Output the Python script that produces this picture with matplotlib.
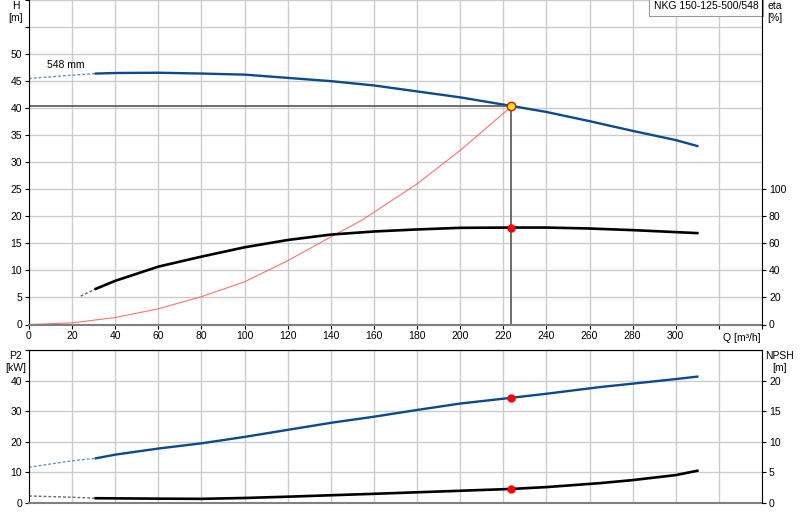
import matplotlib
matplotlib.use("Agg")
import matplotlib.pyplot as plt

plt.rcParams['font.family'] = ['Liberation Sans', 'DejaVu Sans']

# pump curve H(Q)
q_h_dash = [0, 20, 31]
h_dash = [45.5, 46.1, 46.4]
q_h = [31, 40, 60, 80, 100, 120, 140, 160, 180, 200, 224, 240, 260, 280, 300, 310]
h = [46.4, 46.5, 46.55, 46.4, 46.2, 45.6, 45.0, 44.2, 43.1, 42.0, 40.4, 39.3, 37.6, 35.8, 34.1, 33.0]

# system curve
q_sys = [0, 20, 40, 60, 80, 100, 120, 140, 154, 180, 200, 224]
h_sys = [0, 0.3, 1.3, 2.9, 5.15, 7.9, 11.8, 16.2, 19.2, 26.0, 32.2, 40.4]

# efficiency
q_eta_dash = [24, 31]
eta_dash = [21, 26.4]
q_eta = [31, 40, 60, 80, 100, 120, 140, 160, 180, 200, 224, 240, 260, 280, 310]
eta = [26.4, 32.3, 42.8, 50.2, 57.1, 62.5, 66.5, 68.8, 70.3, 71.5, 71.7, 71.7, 71.0, 69.8, 67.6]

# power P2
q_p2_dash = [0, 20, 31]
p2_dash = [11.7, 13.8, 14.6]
q_p2 = [31, 40, 60, 80, 100, 120, 140, 160, 180, 200, 224, 240, 265, 280, 300, 310]
p2 = [14.6, 15.8, 17.8, 19.5, 21.6, 23.9, 26.2, 28.2, 30.4, 32.5, 34.4, 35.7, 37.9, 39.0, 40.5, 41.3]

# NPSH
q_npsh_dash = [0, 20, 31]
npsh_dash = [1.15, 0.94, 0.78]
q_npsh = [31, 60, 80, 100, 120, 160, 200, 224, 240, 265, 280, 300, 310]
npsh = [0.78, 0.71, 0.68, 0.82, 1.03, 1.5, 2.0, 2.3, 2.6, 3.25, 3.74, 4.56, 5.27]

# duty point
q_op = 223.7
h_op = 40.4
eta_op = 71.7
p2_op = 34.4
npsh_op = 2.3

x_ticks = list(range(0, 341, 20))
x_labels = [str(v) if v <= 300 else '' for v in x_ticks]

blue = '#0b4a8b'
grid_c = '#cccccc'
fs = 7.5

fig = plt.figure(figsize=(8, 5.2), dpi=100)
ax = fig.add_axes([29 / 800, 1 - 324.5 / 520, 733 / 800, 324.5 / 520])
ax2 = fig.add_axes([29 / 800, 1 - 503 / 520, 733 / 800, 153 / 520])


def style_axes(a, ylim, yticks):
    a.set_xlim(0, 340)
    a.set_ylim(*ylim)
    a.set_xticks(x_ticks)
    a.set_yticks(yticks)
    a.grid(True, color=grid_c, linewidth=1)
    a.set_axisbelow(True)
    a.spines['top'].set_visible(False)
    a.spines['left'].set_color('black')
    a.spines['bottom'].set_color('#808080')
    a.spines['bottom'].set_linewidth(1.5)
    a.tick_params(labelsize=fs, length=3, pad=2)


# top chart
style_axes(ax, (0, 60), range(0, 61, 5))
ax.set_yticklabels([str(v) if v <= 50 else '' for v in range(0, 61, 5)])
ax.set_xticklabels(x_labels)
ax.spines['right'].set_visible(False)

ax.plot(q_h_dash, h_dash, color=blue, linewidth=1, linestyle=(0, (2, 1.5)), alpha=0.6)
ax.plot(q_h, h, color=blue, linewidth=1.7)
ax.plot(q_sys, h_sys, color='#ff5050', linewidth=0.8, alpha=0.8)
ax.plot([0, q_op], [h_op, h_op], color='#555555', linewidth=1.2)
ax.plot([q_op, q_op], [0, h_op], color='#555555', linewidth=1.2)

ax_eta = ax.twinx()
ax_eta.set_ylim(0, 240)
ax_eta.set_yticks(range(0, 101, 20))
ax_eta.tick_params(labelsize=fs, length=3, pad=2)
ax_eta.spines['top'].set_visible(False)
ax_eta.spines['left'].set_visible(False)
ax_eta.spines['bottom'].set_visible(False)
ax_eta.plot(q_eta_dash, eta_dash, color='black', linewidth=1, linestyle=(0, (2, 1.5)), alpha=0.6)
ax_eta.plot(q_eta, eta, color='black', linewidth=1.9)
ax_eta.plot(q_op, eta_op, 'o', color='red', markersize=5)
ax.plot(q_op, h_op, 'o', markerfacecolor='#ffee00', markeredgecolor='red', markersize=6, zorder=5)

ax.text(8.5, 47.9, '548 mm', fontsize=fs, va='center')
ax.text(322, -1.5, 'Q [m³/h]', fontsize=fs, ha='left', va='top')
ax.text(338.5, 59.8, 'NKG 150-125-500/548', fontsize=fs, ha='right', va='top',
        bbox=dict(boxstyle='square,pad=0.45', facecolor='white', edgecolor='#999999', linewidth=0.8))

# axis titles, placed in figure pixels like the reference
fig.text(16 / 800, 1 - 1 / 520, 'H\n[m]', fontsize=fs, ha='center', va='top', linespacing=1.3)
fig.text(767 / 800, 1 - 1 / 520, 'eta\n[%]', fontsize=fs, ha='left', va='top', linespacing=1.3)
fig.text(16 / 800, 1 - 351 / 520, 'P2\n[kW]', fontsize=fs, ha='center', va='top', linespacing=1.3)
fig.text(780 / 800, 1 - 351 / 520, 'NPSH\n[m]', fontsize=fs, ha='center', va='top', linespacing=1.3)

# bottom chart
style_axes(ax2, (0, 50), range(0, 51, 10))
ax2.set_yticklabels([str(v) if v <= 40 else '' for v in range(0, 51, 10)])
ax2.set_xticklabels([])
ax2.tick_params(axis='x', length=0)
ax2.spines['right'].set_visible(False)
ax2.spines['top'].set_visible(True)
ax2.spines['top'].set_color('black')

ax2.plot(q_p2_dash, p2_dash, color=blue, linewidth=1, linestyle=(0, (2, 1.5)), alpha=0.6)
ax2.plot(q_p2, p2, color=blue, linewidth=1.7)
ax2.plot(q_op, p2_op, 'o', color='red', markersize=5)

ax_npsh = ax2.twinx()
ax_npsh.set_ylim(0, 25)
ax_npsh.set_yticks(range(0, 21, 5))
ax_npsh.tick_params(labelsize=fs, length=3, pad=2)
ax_npsh.spines['left'].set_visible(False)
ax_npsh.spines['bottom'].set_visible(False)
ax_npsh.plot(q_npsh_dash, npsh_dash, color='black', linewidth=1, linestyle=(0, (2, 1.5)), alpha=0.6)
ax_npsh.plot(q_npsh, npsh, color='black', linewidth=1.9)
ax_npsh.plot(q_op, npsh_op, 'o', color='red', markersize=5)

fig.savefig('out.png', dpi=100)
